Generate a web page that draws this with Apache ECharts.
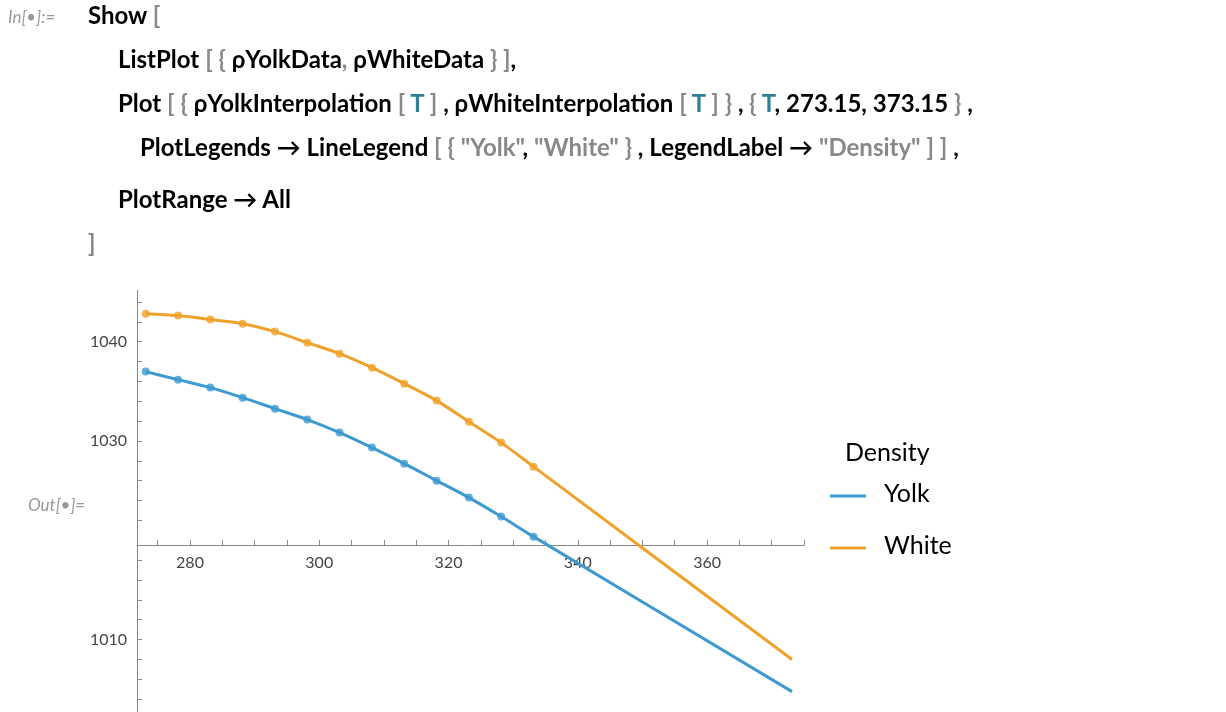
<!DOCTYPE html>
<html><head><meta charset="utf-8">
<script src="https://cdn.jsdelivr.net/npm/echarts@6/dist/echarts.min.js"></script>
<style>
html,body{margin:0;padding:0;background:#fff}
#wrap{position:relative;width:1226px;height:712px}
#c{width:1226px;height:712px}
.l{position:absolute;font-family:Lato,"Open Sans",sans-serif;font-size:24px;font-weight:bold;color:#000;white-space:pre}
.g{color:#888}.t{color:#2f7f95}
.lab{position:absolute;font-family:Lato,sans-serif;font-size:17px;font-style:italic;color:#999}
</style>
</head><body><div id="wrap"><div id="c"></div>
<div class="lab" style="left:8px;top:6px">In[•]:=</div>
<div class="l" style="left:88px;top:0px">Show <span class="g">[</span></div>
<div class="l" style="left:118px;top:44px">ListPlot <span class="g">[ {</span> ρYolkData<span class="g">,</span> ρWhiteData <span class="g">} ]</span>,</div>
<div class="l" style="left:118px;top:88px">Plot <span class="g">[ {</span> ρYolkInterpolation <span class="g">[</span> <span class="t">T</span> <span class="g">]</span> , ρWhiteInterpolation <span class="g">[</span> <span class="t">T</span> <span class="g">] }</span> , <span class="g">{</span> <span class="t">T</span>, 273.15, 373.15 <span class="g">}</span> ,</div>
<div class="l" style="left:140px;top:132px">PlotLegends → LineLegend <span class="g">[ {</span> <span class="g">"Yolk"</span>, <span class="g">"White"</span> <span class="g">}</span> , LegendLabel → <span class="g">"Density"</span> <span class="g">] ]</span> ,</div>
<div class="l" style="left:118px;top:184px">PlotRange → All</div>
<div class="l" style="left:88px;top:228px"><span class="g">]</span></div>
<div class="lab" style="left:28px;top:494px">Out[•]=</div>
</div>
<script>
const temps = [273.15,278.15,283.15,288.15,293.15,298.15,303.15,308.15,313.15,318.15,323.15,328.15,333.15];
const yolk = [1036.98,1036.17,1035.37,1034.36,1033.25,1032.15,1030.84,1029.33,1027.71,1026.0,1024.29,1022.38,1020.36];
const white = [1042.82,1042.62,1042.22,1041.81,1041.01,1039.9,1038.79,1037.38,1035.77,1034.06,1031.94,1029.83,1027.41];
const endT = 373.15, yolkEnd = 1004.75, whiteEnd = 1007.98;
const xLabels = [280,300,320,340,360];
const yLabels = [1010,1030,1040];
const xTicks = [275,280,285,290,295,300,305,310,315,320,325,330,335,340,345,350,355,360,365,370,375];
const yTicks = [1004,1006,1008,1010,1012,1014,1016,1018,1022,1024,1026,1028,1030,1032,1034,1036,1038,1040,1042,1044];
const legendNames = ["Yolk","White"];
const cY = '#3d9ad1', cW = '#f0a12c';
const pts = a => temps.map((t,i)=>[t,a[i]]);
const chart = echarts.init(document.getElementById('c'));
const F = 'Lato, "Open Sans", sans-serif';
chart.setOption({
  animation:false,
  grid:{left:137,top:290,width:667,height:422},
  xAxis:{type:'value',min:271.8,max:375,offset:-167,
    axisLine:{lineStyle:{color:'#888'}},
    axisTick:{inside:true,length:5,customValues:xTicks,lineStyle:{color:'#888'}},
    axisLabel:{customValues:xLabels,color:'#444',fontSize:16,fontFamily:F,margin:10},
    splitLine:{show:false}},
  yAxis:{type:'value',min:1002.7,max:1045.2,
    axisLine:{show:true,lineStyle:{color:'#888'}},
    axisTick:{inside:true,length:5,customValues:yTicks,lineStyle:{color:'#888'}},
    axisLabel:{customValues:yLabels,formatter:v=>String(v),color:'#444',fontSize:16,fontFamily:F,margin:10},
    splitLine:{show:false}},
  series:[
    {type:'line',data:pts(yolk).concat([[endT,yolkEnd]]),smooth:0.3,showSymbol:false,lineStyle:{color:cY,width:3}},
    {type:'line',data:pts(white).concat([[endT,whiteEnd]]),smooth:0.3,showSymbol:false,lineStyle:{color:cW,width:3}},
    {type:'scatter',data:pts(yolk),symbolSize:8,itemStyle:{color:cY}},
    {type:'scatter',data:pts(white),symbolSize:8,itemStyle:{color:cW}}
  ],
  graphic:[
    {type:'text',left:845,top:440,style:{text:'Density',fontFamily:F,fontSize:25,fill:'#000'}},
    {type:'line',shape:{x1:830,y1:496,x2:866,y2:496},style:{stroke:cY,lineWidth:3}},
    {type:'text',left:884,top:481,style:{text:legendNames[0],fontFamily:F,fontSize:25,fill:'#000'}},
    {type:'line',shape:{x1:830,y1:548,x2:866,y2:548},style:{stroke:cW,lineWidth:3}},
    {type:'text',left:884,top:533,style:{text:legendNames[1],fontFamily:F,fontSize:25,fill:'#000'}}
  ]
});
</script></body></html>
